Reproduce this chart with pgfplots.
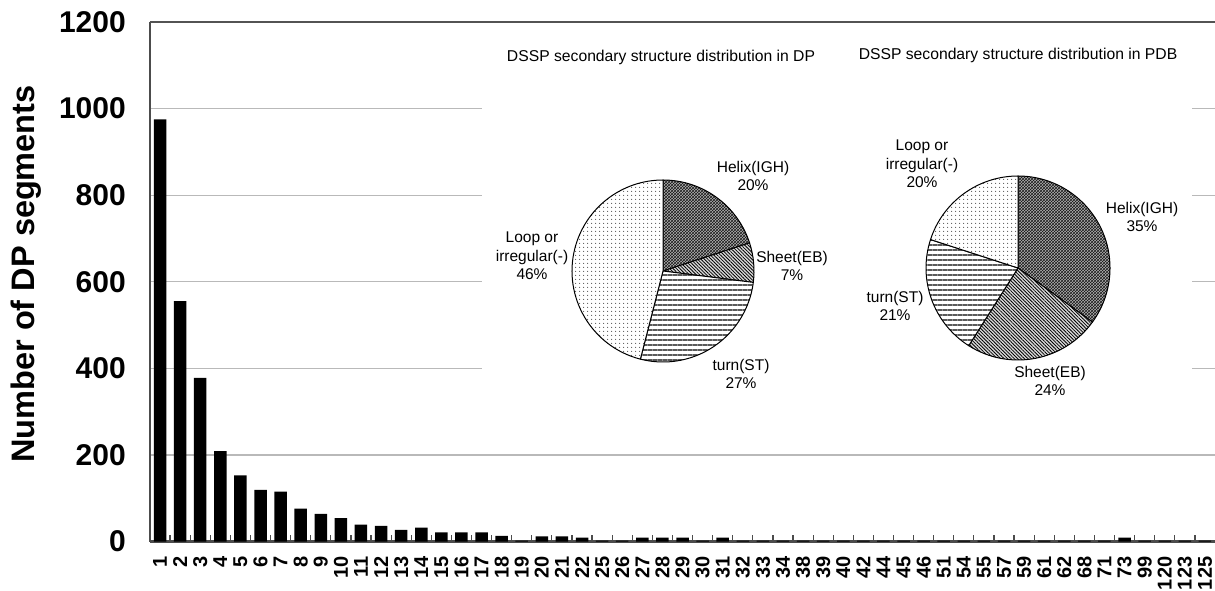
\documentclass[border=0pt]{standalone}
\usepackage{fontspec}
\setmainfont{Liberation Sans}
\usepackage{pgfplots}
\pgfplotsset{compat=1.18}
\usepackage{pgfplotstable}
\usetikzlibrary{patterns,patterns.meta}

% Length of DP segments (category) and how many segments have that length
\pgfplotstableread{
idx len n
0 1 975
1 2 555
2 3 378
3 4 209
4 5 153
5 6 119
6 7 115
7 8 76
8 9 64
9 10 54
10 11 39
11 12 36
12 13 27
13 14 32
14 15 21
15 16 21
16 17 21
17 18 13
18 19 2
19 20 12
20 21 12
21 22 9
22 25 2
23 26 2
24 27 9
25 28 9
26 29 9
27 30 2
28 31 9
29 32 2
30 33 2
31 34 2
32 38 2
33 39 2
34 40 2
35 42 2
36 44 2
37 45 2
38 46 2
39 51 2
40 54 2
41 55 2
42 57 2
43 59 2
44 61 2
45 62 2
46 68 2
47 71 2
48 73 9
49 99 2
50 120 2
51 123 2
52 125 2
}\segdata

\tikzset{
  helix/.style={preaction={fill=gray!60}, pattern=crosshatch, pattern color=black!90},
  sheet/.style={preaction={fill=gray!30}, pattern={Lines[angle=-45,distance=2.4pt,line width=0.8pt]}, pattern color=black},
  turn/.style={preaction={fill=white}, pattern={Lines[angle=0,distance=5pt,line width=1.6pt]}, pattern color=gray!70!black},
  loop/.style={preaction={fill=white}, pattern={Dots[distance=4pt,radius=0.7pt]}, pattern color=gray!70!black},
}

% sector: centre x, centre y, radius, cumulative share before it (%), share (%), style
% slices run clockwise from 12 o'clock
\newcommand{\piesector}[6]{%
  \draw[#6, draw=black, line width=1pt, line join=round]
    (axis cs:#1,#2) -- ++({90-3.6*(#4)}:#3pt)
    arc[start angle={90-3.6*(#4)}, end angle={90-3.6*((#4)+(#5))}, radius=#3pt] -- cycle;
}

\newcommand{\pielab}{\fontsize{15.5}{18.5}\selectfont}
\newcommand{\pietitle}{\fontsize{15.7}{18}\selectfont}

\begin{document}
\begin{tikzpicture}
\begin{axis}[
  at={(150pt,48.5pt)}, anchor=south west,
  scale only axis, width=1065pt, height=519.5pt,
  xmin=-0.5, xmax=52.5, ymin=0, ymax=1200,
  ybar, bar width=12.5pt,
  axis x line*=bottom, axis y line*=left,
  axis line style={gray!60!black, line width=1.8pt},
  x axis line style={line width=3pt},
  ytick={0,200,...,1200},
  xtick={0,...,52},
  xticklabels from table={\segdata}{len},
  major tick length=0pt,
  ymajorgrids, grid style={gray!55, line width=1.3pt},
  extra y ticks={1200}, extra y tick labels={},
  extra y tick style={grid style={gray!65!black, line width=2.5pt}},
  /pgf/number format/assume math mode=true,
  /pgf/number format/1000 sep={},
  yticklabel style={font=\fontsize{30}{30}\selectfont\bfseries, inner sep=0pt},
  yticklabel shift=24pt,
  xticklabel style={rotate=90, anchor=east, inner sep=0pt, font=\fontsize{20}{20}\selectfont\bfseries},
  xticklabel shift=15pt,
  ylabel={Number of DP segments},
  ylabel style={font=\fontsize{32.5}{32.5}\selectfont\bfseries, at={(axis description cs:-0.108,0.515)}, anchor=base},
]
% short tick strokes between neighbouring categories
\pgfplotsinvokeforeach{0.5,1.5,...,51.5}{
  \draw[gray!60!black, line width=1.2pt] (axis cs:#1,0) -- ++(0pt,7pt);
}
\addplot[fill=black, draw=none] table[x=idx, y=n] {\segdata};
\end{axis}

\begin{axis}[
  at={(0pt,0pt)}, anchor=south west,
  x=1pt, y=1pt, xmin=0, xmax=1215, ymin=0, ymax=590,
  hide axis, clip=false,
]
% white ground of the two inset pies
\fill[white] (axis cs:482,150) rectangle (axis cs:1192,561);

% DP: Helix 20, Sheet 7, turn 27, Loop 46
\piesector{663}{319}{91}{0}{20}{helix}
\piesector{663}{319}{91}{20}{7}{sheet}
\piesector{663}{319}{91}{27}{27}{turn}
\piesector{663}{319}{91}{54}{46}{loop}
\node[font=\pietitle] at (axis cs:661,533) {DSSP secondary structure distribution in DP};
\node[align=center, font=\pielab] at (axis cs:753,414) {Helix(IGH)\\20\%};
\node[align=center, font=\pielab] at (axis cs:792,324) {Sheet(EB)\\7\%};
\node[align=center, font=\pielab] at (axis cs:741,216) {turn(ST)\\27\%};
\node[align=center, font=\pielab] at (axis cs:532,334) {Loop or\\irregular(-)\\46\%};

% PDB: Helix 35, Sheet 24, turn 21, Loop 20
\piesector{1018}{322}{92}{0}{35}{helix}
\piesector{1018}{322}{92}{35}{24}{sheet}
\piesector{1018}{322}{92}{59}{21}{turn}
\piesector{1018}{322}{92}{80}{20}{loop}
\node[font=\pietitle] at (axis cs:1018,535) {DSSP secondary structure distribution in PDB};
\node[align=center, font=\pielab] at (axis cs:922,426) {Loop or\\irregular(-)\\20\%};
\node[align=center, font=\pielab] at (axis cs:1142,373) {Helix(IGH)\\35\%};
\node[align=center, font=\pielab] at (axis cs:895,284) {turn(ST)\\21\%};
\node[align=center, font=\pielab] at (axis cs:1050,209) {Sheet(EB)\\24\%};
\end{axis}

\pgfresetboundingbox
\path[use as bounding box] (0pt,0pt) rectangle (1215pt,590pt);
\end{tikzpicture}
\end{document}
